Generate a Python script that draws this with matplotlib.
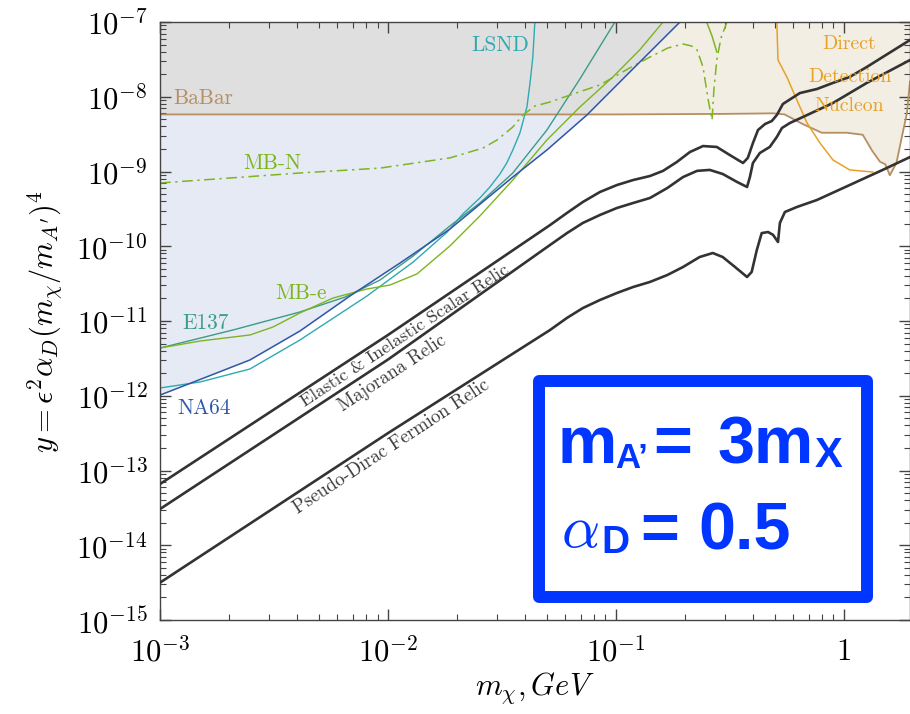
import numpy as np
import matplotlib
matplotlib.use("Agg")
import matplotlib.pyplot as plt
from matplotlib.patches import Rectangle
from matplotlib.ticker import LogLocator, FixedLocator, FixedFormatter, NullFormatter

plt.rcParams["mathtext.fontset"] = "cm"
plt.rcParams["font.family"] = ["DejaVu Sans"]

# ---------------- data (m_chi in GeV, y dimensionless) ----------------
X_MIN, X_MAX = 1e-3, 1.95
Y_MIN, Y_MAX = 1e-15, 1e-7

# thermal relic targets
scalar_x = [1.0e-3, 1.0e-2, 0.0514, 0.0610, 0.0716, 0.0851, 0.101, 0.119, 0.141, 0.161,
            0.185, 0.211, 0.241, 0.277, 0.316, 0.361, 0.379, 0.399, 0.420, 0.451, 0.483,
            0.508, 0.540, 0.641, 0.762, 0.895, 1.06, 1.26, 1.48, 1.95]
scalar_y = [6.59e-14, 6.50e-12, 1.92e-10, 2.79e-10, 3.91e-10, 5.32e-10, 6.59e-10, 7.69e-10,
            8.70e-10, 1.02e-9, 1.34e-9, 1.82e-9, 2.19e-9, 2.13e-9, 1.66e-9, 1.30e-9,
            1.52e-9, 2.40e-9, 3.59e-9, 4.32e-9, 4.74e-9, 5.70e-9, 8.00e-9, 1.12e-8,
            1.27e-8, 1.53e-8, 1.84e-8, 2.50e-8, 3.40e-8, 5.74e-8]

majorana_x = [1.0e-3, 1.0e-2, 0.0514, 0.0610, 0.0716, 0.0851, 0.101, 0.119, 0.141, 0.168,
              0.197, 0.227, 0.258, 0.294, 0.340, 0.376, 0.387, 0.399, 0.428, 0.473, 0.508,
              0.535, 0.580, 0.661, 0.895, 1.26, 1.95]
majorana_y = [3.05e-14, 3.05e-12, 1.04e-10, 1.50e-10, 2.05e-10, 2.62e-10, 3.25e-10, 3.79e-10,
              4.42e-10, 6.01e-10, 8.43e-10, 1.02e-9, 1.05e-9, 9.27e-10, 7.24e-10, 6.21e-10,
              8.43e-10, 1.30e-9, 1.77e-9, 2.13e-9, 2.90e-9, 3.82e-9, 4.46e-9, 5.36e-9,
              8.24e-9, 1.53e-8, 3.10e-8]

dirac_x = [1.0e-3, 1.0e-2, 0.0514, 0.0610, 0.0716, 0.0851, 0.101, 0.119, 0.141, 0.168,
           0.197, 0.233, 0.266, 0.294, 0.333, 0.376, 0.394, 0.415, 0.436, 0.465, 0.489,
           0.514, 0.524, 0.551, 0.622, 0.762, 1.06, 1.48, 1.95]
dirac_y = [3.16e-15, 3.16e-13, 7.58e-12, 1.10e-11, 1.49e-11, 1.91e-11, 2.37e-11, 2.85e-11,
           3.33e-11, 4.12e-11, 5.28e-11, 7.18e-11, 8.12e-11, 7.18e-11, 5.28e-11, 3.88e-11,
           4.53e-11, 8.91e-11, 1.50e-10, 1.55e-10, 1.42e-10, 1.14e-10, 2.05e-10, 2.87e-10,
           3.35e-10, 4.16e-10, 6.59e-10, 1.05e-9, 1.56e-9]

# experimental limits
babar_x = [1.0e-3, 0.1, 0.3, 0.489, 0.55, 0.661, 0.80, 1.03, 1.21, 1.33, 1.44, 1.52, 1.59,
           1.70, 1.80, 1.89, 1.95]
babar_y = [5.8e-9, 5.8e-9, 5.9e-9, 6.0e-9, 5.8e-9, 4.3e-9, 3.3e-9, 3.3e-9, 3.1e-9, 1.9e-9,
           1.35e-9, 1.25e-9, 8.9e-10, 1.3e-9, 3.0e-9, 6.0e-9, 1.6e-8]

na64_x = [1.0e-3, 2.48e-3, 4.11e-3, 6.81e-3, 1.13e-2, 1.87e-2, 3.53e-2, 4.98e-2, 7.46e-2,
          0.115, 0.191]
na64_y = [1.02e-12, 3.01e-12, 7.35e-12, 2.16e-11, 5.97e-11, 1.70e-10, 8.43e-10, 1.94e-9,
          5.70e-9, 2.14e-8, 1.0e-7]

e137_x = [1.0e-3, 2.09e-3, 4.11e-3, 6.48e-3, 9.22e-3, 1.29e-2, 1.87e-2, 2.53e-2, 3.53e-2,
          4.98e-2, 6.95e-2, 9.90e-2]
e137_y = [4.35e-12, 7.58e-12, 1.32e-11, 2.09e-11, 3.53e-11, 7.41e-11, 1.87e-10, 3.79e-10,
          9.55e-10, 3.59e-9, 1.73e-8, 1.0e-7]

mbe_x = [1.0e-3, 1.50e-3, 2.48e-3, 3.13e-3, 4.11e-3, 5.74e-3, 8.09e-3, 1.02e-2, 1.34e-2,
         1.87e-2, 2.53e-2, 3.53e-2, 4.98e-2, 6.95e-2, 9.70e-2, 0.127, 0.161]
mbe_y = [4.35e-12, 5.40e-12, 6.50e-12, 8.31e-12, 1.28e-11, 2.03e-11, 2.68e-11, 3.03e-11,
         4.26e-11, 1.01e-10, 2.54e-10, 7.69e-10, 2.64e-9, 7.29e-9, 1.84e-8, 4.22e-8, 1.0e-7]

lsnd_x = [1.0e-3, 1.50e-3, 2.48e-3, 4.11e-3, 8.09e-3, 1.29e-2, 1.82e-2, 2.13e-2, 2.53e-2,
          2.80e-2, 3.10e-2, 3.32e-2, 3.53e-2, 3.79e-2, 4.07e-2, 4.20e-2, 4.32e-2, 4.41e-2]
lsnd_y = [1.27e-12, 1.53e-12, 2.28e-12, 5.57e-12, 2.16e-11, 6.15e-11, 1.55e-10, 2.70e-10,
          4.42e-10, 6.21e-10, 9.27e-10, 1.30e-9, 1.94e-9, 3.27e-9, 7.29e-9, 1.53e-8, 3.40e-8,
          1.0e-7]

mbn_x = [1.0e-3, 4.11e-3, 9.22e-3, 1.87e-2, 2.61e-2, 3.01e-2, 3.53e-2, 3.91e-2, 4.41e-2,
         5.14e-2, 6.10e-2, 8.51e-2, 0.115, 0.141, 0.169, 0.197, 0.215, 0.227, 0.241, 0.254,
         0.264, 0.269, 0.277, 0.289, 0.307]
mbn_y = [7.02e-10, 9.55e-10, 1.11e-9, 1.52e-9, 2.06e-9, 2.64e-9, 3.94e-9, 5.70e-9, 7.51e-9,
         8.51e-9, 1.02e-8, 1.44e-8, 2.43e-8, 3.40e-8, 4.49e-8, 5.08e-8, 4.77e-8, 4.22e-8,
         2.50e-8, 9.06e-9, 4.89e-9, 1.23e-8, 3.10e-8, 6.11e-8, 1.0e-7]
mbn_notch_x = [0.250, 0.264, 0.277]
mbn_notch_y = [1.0e-7, 6.50e-8, 3.97e-8]

dd_x = [0.508, 0.514, 0.562, 0.622, 0.689, 0.786, 0.895, 1.06, 1.34]
dd_y = [1.0e-7, 3.10e-8, 1.84e-8, 9.06e-9, 4.46e-9, 2.40e-9, 1.43e-9, 1.05e-9, 9.84e-10]

x_tick_vals = [1e-3, 1e-2, 1e-1, 1.0]
x_tick_labels = [r"$10^{-3}$", r"$10^{-2}$", r"$10^{-1}$", r"$1$"]
y_tick_vals = [10.0 ** k for k in range(-15, -6)]
y_tick_labels = [r"$10^{%d}$" % k for k in range(-15, -6)]

# ---------------- colours ----------------
C_BABAR = "#b58f62"
C_NA64 = "#2f57a8"
C_E137 = "#3b9c86"
C_LSND = "#2eaab0"
C_MB = "#7db51f"
C_DD = "#e6a227"
C_RELIC = "#333333"
C_BOX = "#0036ff"

# ---------------- figure ----------------
W, H = 910, 714
fig = plt.figure(figsize=(W / 100, H / 100), dpi=100)
ax = fig.add_axes([160 / W, 1 - 620 / H, 750 / W, 598 / H])
ax.set_xscale("log")
ax.set_yscale("log")
ax.set_xlim(X_MIN, X_MAX)
ax.set_ylim(Y_MIN, Y_MAX)

# shaded excluded regions
ax.fill_between(babar_x, babar_y, Y_MAX, color="#f3eee4", lw=0, zorder=0)
ax.fill_between(na64_x, na64_y, Y_MAX, color="#e6eaf4", lw=0, zorder=0.5)
lx = np.log10(na64_x)
babar_on_na64 = 10 ** np.interp(lx, np.log10(babar_x), np.log10(babar_y))
ax.fill_between(na64_x, np.maximum(na64_y, babar_on_na64), Y_MAX,
                color="#dfdfdf", lw=0, zorder=0.6)

# limit curves
ax.plot(babar_x, babar_y, color=C_BABAR, lw=1.3, zorder=2)
ax.plot(dd_x, dd_y, color=C_DD, lw=1.1, zorder=2)
ax.plot(lsnd_x, lsnd_y, color=C_LSND, lw=1.0, zorder=2)
ax.plot(e137_x, e137_y, color=C_E137, lw=1.0, zorder=2)
ax.plot(mbe_x, mbe_y, color=C_MB, lw=1.0, zorder=2)
ax.plot(na64_x, na64_y, color=C_NA64, lw=1.1, zorder=2.1)
dashdot = (0, (7, 3, 1.5, 3))
ax.plot(mbn_x, mbn_y, color=C_MB, lw=1.1, zorder=2, linestyle=dashdot)
ax.plot(mbn_notch_x, mbn_notch_y, color=C_MB, lw=1.1, zorder=2)

# relic lines
for xs, ys in [(scalar_x, scalar_y), (majorana_x, majorana_y), (dirac_x, dirac_y)]:
    ax.plot(xs, ys, color=C_RELIC, lw=1.9, zorder=3, solid_joinstyle="round")

# region labels
lab = dict(family="cmr10", zorder=4)
ax.text(1.14e-3, 9.6e-9, "BaBar", color=C_BABAR, fontsize=15.4, va="center", ha="left", **lab)
ax.text(2.31e-3, 1.30e-9, "MB-N", color=C_MB, fontsize=15.4, va="center", ha="left", **lab)
ax.text(2.33e-2, 4.92e-8, "LSND", color=C_LSND, fontsize=15.4, va="center", ha="left", **lab)
ax.text(1.25e-3, 9.4e-12, "E137", color=C_E137, fontsize=15.4, va="center", ha="left", **lab)
ax.text(3.19e-3, 2.37e-11, "MB-e", color=C_MB, fontsize=15.4, va="center", ha="left", **lab)
ax.text(1.19e-3, 6.85e-13, "NA64", color=C_NA64, fontsize=15.4, va="center", ha="left", **lab)
for txt, yv in [("Direct", 5.0e-8), ("Detection", 1.85e-8), ("Nucleon", 7.4e-9)]:
    ax.text(1.06, yv, txt, color=C_DD, fontsize=14.3, va="center", ha="center", **lab)

rot = 33.3
relic_lab = dict(color="#3a3a3a", rotation=rot, rotation_mode="anchor",
                 ha="center", va="center", **lab)
ax.text(1.19e-2, 6.4e-12, "Elastic & Inelastic Scalar Relic", fontsize=13, **relic_lab)
ax.text(1.04e-2, 2.01e-12, "Majorana Relic", fontsize=13.5, **relic_lab)
ax.text(1.04e-2, 2.06e-13, "Pseudo-Dirac Fermion Relic", fontsize=13.5, **relic_lab)

# ticks
ax.xaxis.set_major_locator(FixedLocator(x_tick_vals))
ax.xaxis.set_major_formatter(FixedFormatter(x_tick_labels))
ax.xaxis.set_minor_locator(LogLocator(base=10, subs=np.arange(2, 10), numticks=100))
ax.xaxis.set_minor_formatter(NullFormatter())
ax.yaxis.set_major_locator(FixedLocator(y_tick_vals))
ax.yaxis.set_major_formatter(FixedFormatter(y_tick_labels))
ax.yaxis.set_minor_locator(LogLocator(base=10, subs=np.arange(2, 10), numticks=100))
ax.yaxis.set_minor_formatter(NullFormatter())
ax.tick_params(which="both", direction="in", top=True, right=True, color="#444444")
ax.tick_params(which="major", length=8, width=1.0, labelsize=22, pad=9)
ax.tick_params(which="minor", length=4.5, width=0.8)
ax.tick_params(axis="x", which="major", pad=12)
for s in ax.spines.values():
    s.set_color("#444444")
    s.set_linewidth(1.0)

ax.set_xlabel(r"$m_\chi, GeV$", fontsize=22, labelpad=2)
ax.set_ylabel(r"$y = \epsilon^2\alpha_D(m_\chi/m_{A^\prime})^4$", fontsize=22, labelpad=8)


# parameter box (placed in figure pixels)
def fx(px):
    return px / W


def fy(py):
    return 1 - py / H


box = Rectangle((fx(539), fy(597)), fx(867) - fx(539), fy(381) - fy(597),
                transform=fig.transFigure, fill=True, facecolor="white",
                edgecolor=C_BOX, lw=8.6, joinstyle="round", zorder=5)
fig.add_artist(box)

sans = dict(family="Liberation Sans", weight="bold", color=C_BOX, va="baseline",
            ha="left", zorder=6)
fig.text(fx(557), fy(463), "m", fontsize=48, **sans)
fig.text(fx(615), fy(468), "A\u2019", fontsize=25, **sans)
fig.text(fx(653), fy(463), "=", fontsize=48, **sans)
fig.text(fx(718), fy(463), "3m", fontsize=48, **sans)
fig.text(fx(815), fy(467), "X", fontsize=30, **sans)
fig.text(fx(561), fy(547), r"$\alpha$", fontsize=43, color=C_BOX, va="baseline",
         ha="left", zorder=6)
fig.text(fx(601), fy(553), "D", fontsize=28, **sans)
fig.text(fx(640), fy(550), "=", fontsize=48, **sans)
fig.text(fx(698), fy(550), "0.5", fontsize=48, **sans)

fig.savefig("out.png", dpi=100)
